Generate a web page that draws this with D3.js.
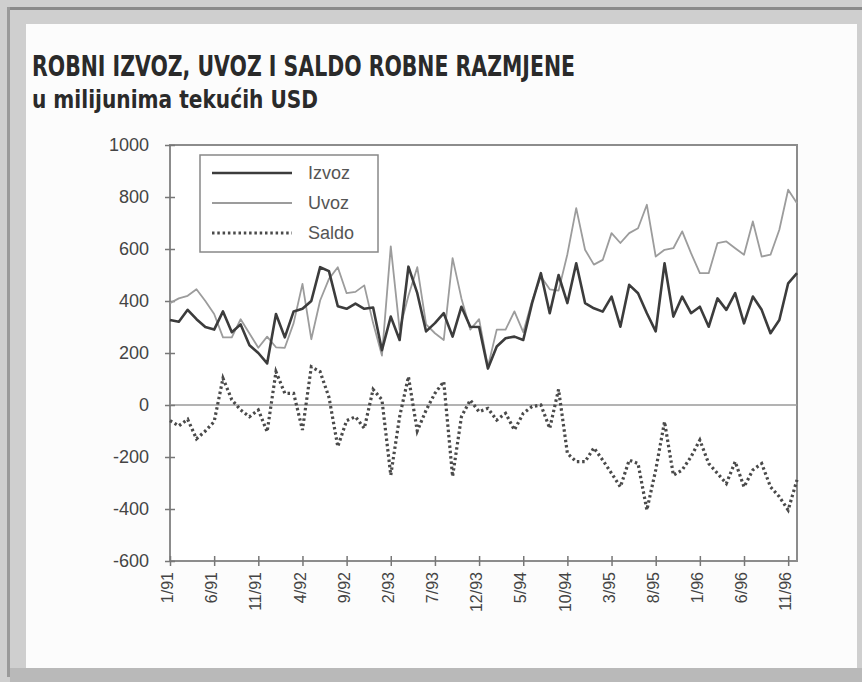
<!DOCTYPE html>
<html>
<head>
<meta charset="utf-8">
<script src="https://cdn.jsdelivr.net/npm/d3@7"></script>
<style>
  body { margin: 0; background: #d2d2d2; }
  svg { display: block; }
</style>
</head>
<body>
<script>
// months 1/91 .. 12/96
const months = [
  "1/91","2/91","3/91","4/91","5/91","6/91","7/91","8/91","9/91","10/91","11/91","12/91",
  "1/92","2/92","3/92","4/92","5/92","6/92","7/92","8/92","9/92","10/92","11/92","12/92",
  "1/93","2/93","3/93","4/93","5/93","6/93","7/93","8/93","9/93","10/93","11/93","12/93",
  "1/94","2/94","3/94","4/94","5/94","6/94","7/94","8/94","9/94","10/94","11/94","12/94",
  "1/95","2/95","3/95","4/95","5/95","6/95","7/95","8/95","9/95","10/95","11/95","12/95",
  "1/96","2/96","3/96","4/96","5/96","6/96","7/96","8/96","9/96","10/96","11/96","12/96"
]
const tickLabels = ["1/91","6/91","11/91","4/92","9/92","2/93","7/93","12/93","5/94","10/94","3/95","8/95","1/96","6/96","11/96"]
const yTicks = [-600,-400,-200,0,200,400,600,800,1000]

const izvoz = [
  327,320,366,330,300,290,360,280,310,230,200,160,
  350,260,360,370,400,530,515,380,370,390,370,375,
  211,340,250,532,430,283,315,353,263,378,301,300,
  140,225,257,263,250,392,507,353,500,392,545,392,
  372,359,417,301,462,430,353,283,545,340,417,353,
  378,301,410,366,430,314,417,366,276,327,468,507
]
const uvoz = [
  392,410,420,445,400,350,260,260,330,275,220,263,
  222,220,315,466,253,402,485,530,430,435,460,315,
  190,610,290,420,530,310,276,250,565,410,290,330,
  147,290,290,360,280,400,494,445,440,580,757,597,
  540,558,661,623,661,680,770,571,597,603,668,584,
  507,507,623,629,603,578,706,571,578,674,828,776
]
const saldo = [
  -60,-80,-55,-130,-100,-64,103,20,-19,-45,-19,-103,
  128,45,45,-96,147,128,30,-160,-60,-45,-90,60,
  20,-270,-45,109,-100,-20,45,90,-275,-45,19,-26,
  -13,-58,-32,-96,-32,-6,0,-90,60,-186,-218,-218,
  -165,-212,-263,-315,-212,-225,-404,-250,-64,-270,-250,-199,
  -135,-225,-263,-302,-218,-315,-250,-225,-315,-353,-404,-288
]

const width = 862, height = 682
const plot = {left: 170, right: 797, top: 145, bottom: 561}

const svg = d3.select("body").append("svg")
  .attr("width", width)
  .attr("height", height)

// frame
svg.append("rect").attr("x",0).attr("y",0).attr("width",width).attr("height",height).attr("fill","#cfcfcf")
svg.append("rect").attr("x",8).attr("y",7).attr("width",854).attr("height",3).attr("fill","#8a8a8a")
svg.append("rect").attr("x",7).attr("y",7).attr("width",3).attr("height",670).attr("fill","#9a9a9a")
svg.append("rect").attr("x",26).attr("y",24).attr("width",831).attr("height",644).attr("fill","#fcfcfc")
svg.append("rect").attr("x",10).attr("y",668).attr("width",852).attr("height",14).attr("fill","#b9b9b9")

// titles
svg.append("text")
  .attr("x", 32).attr("y", 76)
  .attr("textLength", 543).attr("lengthAdjust", "spacingAndGlyphs")
  .style("font-family", "'Liberation Sans Narrow', 'DejaVu Sans Condensed', sans-serif")
  .style("font-weight", "bold").style("font-size", "28px").style("fill", "#2a2a2a")
  .text("ROBNI IZVOZ, UVOZ I SALDO ROBNE RAZMJENE")
svg.append("text")
  .attr("x", 32).attr("y", 108)
  .attr("textLength", 286).attr("lengthAdjust", "spacingAndGlyphs")
  .style("font-family", "'Liberation Sans Narrow', 'DejaVu Sans Condensed', sans-serif")
  .style("font-weight", "bold").style("font-size", "25px").style("fill", "#2a2a2a")
  .text("u milijunima tekućih USD")

// scales
const x = d3.scalePoint().domain(months).range([plot.left, plot.right])
const y = d3.scaleLinear().domain([-600, 1000]).range([plot.bottom, plot.top])

svg.append("rect")
  .attr("x", plot.left).attr("y", plot.top)
  .attr("width", plot.right - plot.left).attr("height", plot.bottom - plot.top)
  .attr("fill", "#ffffff").attr("stroke", "#8c8c8c").attr("stroke-width", 2)

// zero line
svg.append("line")
  .attr("x1", plot.left).attr("x2", plot.right)
  .attr("y1", y(0)).attr("y2", y(0))
  .attr("stroke", "#9a9a9a").attr("stroke-width", 1.5)

// y axis
const yAxis = svg.append("g")
  .attr("transform", "translate(" + plot.left + ",0)")
  .call(d3.axisLeft(y).tickValues(yTicks).tickSize(5).tickPadding(16)
    .tickFormat(function(d) { return String(d) }))
yAxis.select(".domain").remove()
yAxis.selectAll(".tick line").attr("x1", 5).attr("x2", -5).attr("stroke", "#777").attr("stroke-width", 1.5)
yAxis.selectAll(".tick text")
  .style("font-family", "'Liberation Sans', Arial, sans-serif").style("font-size", "18px").style("fill", "#444")

// x axis
const xAxis = svg.append("g")
  .attr("transform", "translate(0," + plot.bottom + ")")
  .call(d3.axisBottom(x).tickValues(tickLabels).tickSize(5))
xAxis.select(".domain").remove()
xAxis.selectAll(".tick line").attr("y1", -5).attr("y2", 5).attr("stroke", "#777").attr("stroke-width", 1.5)
xAxis.selectAll(".tick text")
  .attr("transform", "rotate(-90)")
  .attr("x", -11).attr("y", -3).attr("dy", "0.35em")
  .style("text-anchor", "end")
  .style("font-family", "'Liberation Sans', Arial, sans-serif").style("font-size", "16px").style("fill", "#444")

// lines
const line = d3.line().x((d, i) => x(months[i])).y(d => y(d))

svg.append("path").datum(uvoz)
  .attr("d", line).attr("fill", "none")
  .attr("stroke", "#9c9c9c").attr("stroke-width", 1.8).attr("stroke-linejoin", "round")

svg.append("path").datum(izvoz)
  .attr("d", line).attr("fill", "none")
  .attr("stroke", "#3c3c3c").attr("stroke-width", 2.6).attr("stroke-linejoin", "round")

svg.append("path").datum(saldo)
  .attr("d", line).attr("fill", "none")
  .attr("stroke", "#4a4a4a").attr("stroke-width", 3.2).attr("stroke-dasharray", "2.5,2.8")

// legend
const legend = svg.append("g").attr("transform", "translate(200,155)")
legend.append("rect").attr("width", 178).attr("height", 97)
  .attr("fill", "#ffffff").attr("stroke", "#888").attr("stroke-width", 1.5)
const items = [
  {name: "Izvoz", color: "#3c3c3c", w: 2.6, dash: null},
  {name: "Uvoz", color: "#9c9c9c", w: 1.8, dash: null},
  {name: "Saldo", color: "#4a4a4a", w: 3.2, dash: "2.5,2.8"}
]
items.forEach(function(it, i) {
  const yy = 18 + i * 30
  legend.append("line")
    .attr("x1", 12).attr("x2", 92).attr("y1", yy).attr("y2", yy)
    .attr("stroke", it.color).attr("stroke-width", it.w)
    .attr("stroke-dasharray", it.dash)
  legend.append("text")
    .attr("x", 108).attr("y", yy).attr("dy", "0.35em")
    .style("font-family", "'Liberation Sans', Arial, sans-serif").style("font-size", "18px").style("fill", "#555")
    .text(it.name)
})
</script>
</body>
</html>
